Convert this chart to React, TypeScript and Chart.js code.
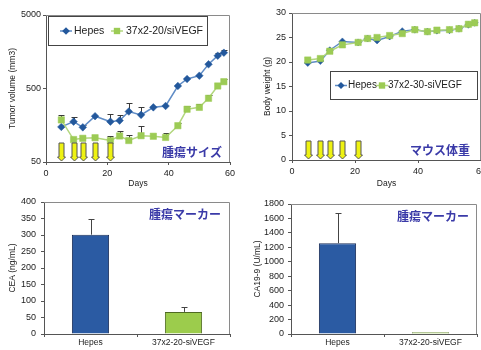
import React, { useEffect, useRef } from "react";
import { Chart, registerables } from "chart.js";
Chart.register(...registerables);

const FONT = "'Liberation Sans', Arial, sans-serif";
const JP_FONT = "'Noto Sans CJK JP', 'Noto Sans CJK SC', sans-serif";

// ---- data ----
const days = [5, 9, 12, 16, 21, 24, 27, 31, 35, 39, 43, 46, 50, 53, 56, 58];
const doseDays = [5, 9, 12, 16, 21];

const tumorHepes = [150, 177, 148, 210, 177, 183, 243, 219, 277, 289, 541, 673, 747, 1067, 1397, 1535];
const tumorHepesErr = [0, 26, 10, 0, 51, 36, 73, 65, 0, 0, 0, 0, 0, 0, 140, 135];
const tumorSi = [187, 101, 105, 107, 98, 113, 98, 114, 112, 108, 156, 261, 277, 368, 541, 619];
const tumorSiErr = [32, 0, 0, 0, 15, 17, 20, 41, 0, 15, 15, 28, 31, 40, 60, 60];
const tumorTicks = [50, 500, 5000];

const weightHepes = [19.8, 20.2, 22.4, 24.2, 24.0, 24.8, 24.4, 25.2, 26.3, 26.6, 26.2, 26.4, 26.5, 26.8, 27.6, 28.0];
const weightSi = [20.4, 20.7, 22.2, 23.5, 24.0, 24.8, 25.0, 25.4, 25.8, 26.6, 26.2, 26.5, 26.6, 26.8, 27.7, 28.0];

const barGroups = ["Hepes", "37x2-20-siVEGF"];
const ceaValues = [301, 67];
const ceaErr = [46, 14];
const ca199Values = [1258, 25];
const ca199Err = [412, 0];

const seriesNames1 = ["Hepes", "37x2-20/siVEGF"];
const seriesNames2 = ["Hepes", "37x2-30-siVEGF"];

// ---- styles ----
const HEPES_LINE = "#5f8cc6";
const HEPES_MARK = "#23589c";
const SI_LINE = "#b2d77e";
const SI_MARK = "#9ccb55";
const BAR_BLUE = "#2b5ba3";
const BAR_BLUE_EDGE = "#1b2f5a";
const BAR_GREEN = "#9ccc4c";
const BAR_GREEN_EDGE = "#4f6a22";
const AXIS = "#555";
const TEXT = "#222";
const JP_COLOR = "#3a3aa8";

const pts = (xs: number[], ys: number[]) => xs.map((x, i) => ({ x, y: ys[i] }));

function zeroPad(s: any) {
  s.paddingTop = 0;
  s.paddingBottom = 0;
  s.paddingLeft = 0;
  s.paddingRight = 0;
}

const framePlugin = {
  id: "frame",
  beforeDatasetsDraw(chart: any) {
    const { ctx, chartArea: a } = chart;
    ctx.save();
    ctx.strokeStyle = "#8a8a8a";
    ctx.lineWidth = 1;
    ctx.beginPath();
    ctx.moveTo(a.left, Math.round(a.top) + 0.5);
    ctx.lineTo(Math.round(a.right) - 0.5, Math.round(a.top) + 0.5);
    ctx.lineTo(Math.round(a.right) - 0.5, a.bottom);
    ctx.stroke();
    ctx.restore();
  },
};

const errorBarPlugin = {
  id: "errorBars",
  beforeDatasetsDraw(chart: any) {
    const { ctx } = chart;
    chart.data.datasets.forEach((ds: any, di: number) => {
      const errs = ds.errorPlus;
      if (!errs) return;
      const meta = chart.getDatasetMeta(di);
      const yScale = chart.scales[meta.yAxisID];
      ctx.save();
      ctx.strokeStyle = ds.errorColor || "#333";
      ctx.lineWidth = 1;
      meta.data.forEach((el: any, i: number) => {
        const e = errs[i];
        if (!e) return;
        const d = ds.data[i];
        const v = typeof d === "object" ? d.y : d;
        const x = Math.round(el.x) + 0.5;
        const y0 = yScale.getPixelForValue(v);
        const y1 = Math.round(yScale.getPixelForValue(v + e)) + 0.5;
        const cw = ds.capWidth || 3;
        ctx.beginPath();
        ctx.moveTo(x, y0);
        ctx.lineTo(x, y1);
        ctx.moveTo(x - cw, y1);
        ctx.lineTo(x + cw, y1);
        ctx.stroke();
      });
      ctx.restore();
    });
  },
};

const arrowPlugin = {
  id: "arrows",
  afterDatasetsDraw(chart: any, _args: any, opts: any) {
    if (!opts || !opts.days) return;
    const { ctx, chartArea: a } = chart;
    const xs = chart.scales.x;
    const bottom = a.bottom - 1;
    const h = opts.height || 18;
    const top = bottom - h;
    const headH = 4;
    ctx.save();
    ctx.fillStyle = "#eef212";
    ctx.strokeStyle = "#555";
    ctx.lineWidth = 1;
    opts.days.forEach((d: number) => {
      const x = Math.round(xs.getPixelForValue(d)) + 0.5;
      ctx.beginPath();
      ctx.moveTo(x - 2.5, top);
      ctx.lineTo(x + 2.5, top);
      ctx.lineTo(x + 2.5, bottom - headH);
      ctx.lineTo(x + 4, bottom - headH);
      ctx.lineTo(x, bottom);
      ctx.lineTo(x - 4, bottom - headH);
      ctx.lineTo(x - 2.5, bottom - headH);
      ctx.closePath();
      ctx.fill();
      ctx.stroke();
    });
    ctx.restore();
  },
};

const jpLabelPlugin = {
  id: "jpLabel",
  afterDatasetsDraw(chart: any, _args: any, opts: any) {
    if (!opts || !opts.text) return;
    const { ctx, chartArea: a } = chart;
    ctx.save();
    ctx.font = `bold ${opts.size || 12}px ${JP_FONT}`;
    ctx.fillStyle = JP_COLOR;
    ctx.textAlign = "right";
    ctx.textBaseline = "middle";
    const y = opts.fromBottom != null ? a.bottom - opts.fromBottom : a.top + opts.fromTop;
    ctx.fillText(opts.text, a.right - opts.fromRight, y);
    ctx.restore();
  },
};

const legendPlugin = {
  id: "boxLegend",
  afterDatasetsDraw(chart: any, _args: any, opts: any) {
    if (!opts || !opts.box) return;
    const { ctx, chartArea: a } = chart;
    const [bx, by, bw, bh] = opts.box;
    const x0 = a.left + bx;
    const y0 = a.top + by;
    ctx.save();
    ctx.fillStyle = "#fff";
    ctx.fillRect(x0, y0, bw, bh);
    ctx.strokeStyle = "#444";
    ctx.lineWidth = 1;
    ctx.strokeRect(Math.round(x0) + 0.5, Math.round(y0) + 0.5, bw, bh);
    const cy = y0 + bh / 2 + 0.5;
    ctx.font = `${opts.fontSize || 10}px ${FONT}`;
    ctx.textBaseline = "middle";
    ctx.textAlign = "left";
    chart.data.datasets.forEach((ds: any, i: number) => {
      const it = opts.items[i];
      const mx = x0 + it.marker;
      ctx.strokeStyle = ds.borderColor;
      ctx.lineWidth = 1.5;
      ctx.beginPath();
      ctx.moveTo(mx - 6, cy);
      ctx.lineTo(mx + 6, cy);
      ctx.stroke();
      ctx.fillStyle = ds.pointBackgroundColor;
      const r = ds.pointRadius;
      ctx.beginPath();
      if (ds.pointStyle === "rectRot") {
        ctx.moveTo(mx, cy - r);
        ctx.lineTo(mx + r, cy);
        ctx.lineTo(mx, cy + r);
        ctx.lineTo(mx - r, cy);
        ctx.closePath();
      } else {
        const s = r * Math.SQRT1_2;
        ctx.rect(mx - s, cy - s, 2 * s, 2 * s);
      }
      ctx.fill();
      ctx.fillStyle = TEXT;
      ctx.fillText(ds.label, x0 + it.text, cy);
    });
    ctx.restore();
  },
};

const tickFont = { family: FONT, size: 9 };
const titleFont = { family: FONT, size: 8.5 };

function baseAxis(extra: any) {
  return {
    grid: { drawOnChartArea: false, drawTicks: true, tickLength: 3, color: AXIS },
    border: { display: true, color: AXIS },
    ...extra,
  };
}

function lineDataset(label: string, data: any, color: string, mark: string, style: string, r: number, order: number, err?: number[]) {
  return {
    label,
    data,
    borderColor: color,
    borderWidth: 1.5,
    pointStyle: style,
    pointRadius: r,
    pointBackgroundColor: mark,
    pointBorderColor: mark,
    pointBorderWidth: 0.5,
    tension: 0,
    order,
    errorPlus: err,
    errorColor: "#3a3a3a",
  };
}

function makeTumorConfig(): any {
  return {
    type: "line",
    data: {
      datasets: [
        lineDataset(seriesNames1[0], pts(days, tumorHepes), HEPES_LINE, HEPES_MARK, "rectRot", 3.8, 1, tumorHepesErr),
        lineDataset(seriesNames1[1], pts(days, tumorSi), SI_LINE, SI_MARK, "rect", 4.5, 0, tumorSiErr),
      ],
    },
    options: {
      animation: false,
      responsive: false,
      events: [],
      layout: { padding: { left: 0, right: 10, top: 15, bottom: 0 } },
      plugins: {
        legend: { display: false },
        tooltip: { enabled: false },
        arrows: { days: doseDays, height: 18 },
        jpLabel: { text: "腫瘍サイズ", fromRight: 8, fromBottom: 10 },
        boxLegend: {
          box: [2, 1, 159, 29],
          fontSize: 10.5,
          items: [
            { marker: 18, text: 26 },
            { marker: 69, text: 78 },
          ],
        },
      },
      scales: {
        x: baseAxis({
          type: "linear",
          min: 0,
          max: 60,
          ticks: { stepSize: 20, font: tickFont, color: TEXT, padding: 3, maxRotation: 0 },
          title: { display: true, text: "Days", font: titleFont, color: TEXT, padding: { top: 0, bottom: 1 } },
          afterFit: (s: any) => {
            s.height = 28;
            zeroPad(s);
          },
        }),
        y: baseAxis({
          type: "logarithmic",
          min: 50,
          max: 5000,
          afterBuildTicks: (s: any) => {
            s.ticks = tumorTicks.map((v) => ({ value: v }));
          },
          ticks: { font: tickFont, color: TEXT, padding: 2, callback: (v: any) => String(v) },
          title: { display: true, text: "Tumor volume (mm3)", font: titleFont, color: TEXT, padding: { top: 8, bottom: 0 } },
          afterFit: (s: any) => {
            s.width = 46;
            zeroPad(s);
          },
        }),
      },
    },
    plugins: [framePlugin, errorBarPlugin, arrowPlugin, jpLabelPlugin, legendPlugin],
  };
}

function makeWeightConfig(): any {
  return {
    type: "line",
    data: {
      datasets: [
        lineDataset(seriesNames2[0], pts(days, weightHepes), HEPES_LINE, HEPES_MARK, "rectRot", 3.5, 1),
        lineDataset(seriesNames2[1], pts(days, weightSi), SI_LINE, SI_MARK, "rect", 4.5, 0),
      ],
    },
    options: {
      animation: false,
      responsive: false,
      events: [],
      layout: { padding: { left: 0, right: 19, top: 13, bottom: 0 } },
      plugins: {
        legend: { display: false },
        tooltip: { enabled: false },
        arrows: { days: doseDays, height: 18 },
        jpLabel: { text: "マウス体重", fromRight: 11, fromBottom: 10 },
        boxLegend: {
          box: [38, 58, 147, 28],
          fontSize: 10,
          items: [
            { marker: 11, text: 18 },
            { marker: 52, text: 58 },
          ],
        },
      },
      scales: {
        x: baseAxis({
          type: "linear",
          min: 0,
          max: 60,
          ticks: { stepSize: 20, font: tickFont, color: TEXT, padding: 3, maxRotation: 0 },
          title: { display: true, text: "Days", font: titleFont, color: TEXT, padding: { top: 0, bottom: 1 } },
          afterFit: (s: any) => {
            s.height = 30;
            zeroPad(s);
          },
        }),
        y: baseAxis({
          type: "linear",
          min: 0,
          max: 30,
          ticks: { stepSize: 5, font: tickFont, color: TEXT, padding: 3 },
          title: { display: true, text: "Body weight (g)", font: titleFont, color: TEXT, padding: { top: 23, bottom: 0 } },
          afterFit: (s: any) => {
            s.width = 52;
            zeroPad(s);
          },
        }),
      },
    },
    plugins: [framePlugin, errorBarPlugin, arrowPlugin, jpLabelPlugin, legendPlugin],
  };
}

function makeBarConfig(values: number[], errs: number[], max: number, step: number, yTitle: string, yWidth: number, titlePad: number, tickPad: number, pad: any, jp: any): any {
  return {
    type: "bar",
    data: {
      labels: barGroups,
      datasets: [
        {
          data: values,
          errorPlus: errs,
          errorColor: "#444",
          capWidth: 3,
          backgroundColor: [BAR_BLUE, BAR_GREEN],
          borderColor: [BAR_BLUE_EDGE, BAR_GREEN_EDGE],
          borderWidth: 1,
          barPercentage: 0.4,
          categoryPercentage: 1,
        },
      ],
    },
    options: {
      animation: false,
      responsive: false,
      events: [],
      layout: { padding: pad },
      plugins: {
        legend: { display: false },
        tooltip: { enabled: false },
        jpLabel: jp,
      },
      scales: {
        x: baseAxis({
          type: "category",
          grid: { drawOnChartArea: false, drawTicks: true, tickLength: 3, color: AXIS, offset: true },
          ticks: { font: { family: FONT, size: 8.5 }, color: TEXT, padding: 1, maxRotation: 0 },
          afterFit: (s: any) => {
            s.height = 16;
            zeroPad(s);
          },
        }),
        y: baseAxis({
          type: "linear",
          min: 0,
          max,
          ticks: { stepSize: step, font: tickFont, color: TEXT, padding: tickPad, callback: (v: any) => String(v) },
          title: { display: true, text: yTitle, font: titleFont, color: TEXT, padding: { top: titlePad, bottom: 0 } },
          afterFit: (s: any) => {
            s.width = yWidth;
            zeroPad(s);
          },
        }),
      },
    },
    plugins: [framePlugin, errorBarPlugin, jpLabelPlugin],
  };
}

function ChartBox({ make, left, top, width, height }: any) {
  const ref = useRef<HTMLCanvasElement | null>(null);
  useEffect(() => {
    if (!ref.current) return;
    const chart = new Chart(ref.current, make());
    return () => chart.destroy();
  }, []);
  return (
    <canvas
      ref={ref}
      width={width}
      height={height}
      style={{ position: "absolute", left, top, width, height }}
    />
  );
}

export default function App() {
  return (
    <div
      style={{
        position: "fixed",
        left: 0,
        top: 0,
        width: 481,
        height: 350,
        overflow: "hidden",
        background: "#fff",
      }}
    >
      <ChartBox make={makeTumorConfig} left={0} top={0} width={240} height={190} />
      <ChartBox make={makeWeightConfig} left={240} top={0} width={260} height={190} />
      <ChartBox
        make={() =>
          makeBarConfig(ceaValues, ceaErr, 400, 50, "CEA (ng/mL)", 44, 8, 5, { left: 0, right: 10, top: 12, bottom: 0 }, {
            text: "腫瘍マーカー",
            fromRight: 9,
            fromTop: 12,
          })
        }
        left={0}
        top={190}
        width={240}
        height={160}
      />
      <ChartBox
        make={() =>
          makeBarConfig(ca199Values, ca199Err, 1800, 200, "CA19-9 (U/mL)", 51, 13, 4, { left: 0, right: 23, top: 14, bottom: 0 }, {
            text: "腫瘍マーカー",
            fromRight: 8,
            fromTop: 12,
          })
        }
        left={240}
        top={190}
        width={260}
        height={160}
      />
    </div>
  );
}
